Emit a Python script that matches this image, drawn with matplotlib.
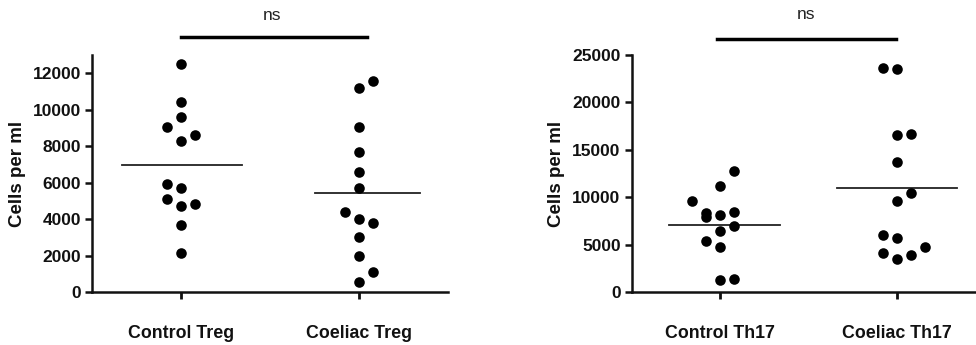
import matplotlib
matplotlib.use("Agg")
import matplotlib.pyplot as plt

plt.rcParams['font.family'] = ['Liberation Sans', 'DejaVu Sans']
plt.rcParams['font.weight'] = 'bold'

# Treg counts (cells per ml)
treg_groups = ["Control Treg", "Coeliac Treg"]
control_treg = [12500, 10400, 9620, 9050, 8630, 8300, 5910, 5720, 5100, 4810, 4720, 3680, 2160]
coeliac_treg = [11600, 11210, 9070, 7660, 6600, 5690, 4370, 4020, 3790, 3030, 1990, 1110, 570]

# Th17 counts (cells per ml)
th17_groups = ["Control Th17", "Coeliac Th17"]
control_th17 = [12760, 11210, 9600, 8300, 7910, 8120, 8440, 6930, 6430, 5380, 4750, 1230, 1370]
coeliac_th17 = [23660, 23490, 16560, 16700, 13680, 10470, 9600, 5980, 5730, 4780, 4150, 3870, 3450]

treg_ticks = [0, 2000, 4000, 6000, 8000, 10000, 12000]
th17_ticks = [0, 5000, 10000, 15000, 20000, 25000]
sig_label = "ns"

# horizontal swarm slots for each point (multiples of the slot width)
slots_control_treg = [0, 0, 0, -1, 1, 0, -1, 0, -1, 1, 0, 0, 0]
slots_coeliac_treg = [1, 0, 0, 0, 0, 0, -1, 0, 1, 0, 0, 1, 0]
slots_control_th17 = [1, 0, -2, -1, -1, 0, 1, 1, 0, -1, 0, 0, 1]
slots_coeliac_th17 = [-1, 0, 0, 1, 0, 1, 0, -1, 0, 2, -1, 1, 0]

SLOT = 0.08
W, H = 976, 345
fig = plt.figure(figsize=(W / 100, H / 100), dpi=100)


def panel(rect, groups, series, slots, ticks, ylim, mean_ext, bar, ns_pos):
    ax = fig.add_axes(rect)
    for i, (vals, sl) in enumerate(zip(series, slots)):
        xs = [i + s * SLOT for s in sl]
        ax.scatter(xs, vals, s=58, color='black', zorder=3, linewidths=0)
        m = sum(vals) / len(vals)
        lo, hi = mean_ext[i]
        ax.plot([i - lo, i + hi], [m, m], color='#222222', lw=1.3, zorder=2)
    ax.set_xlim(-0.5, 1.5)
    ax.set_ylim(*ylim)
    ax.set_yticks(ticks)
    ax.set_xticks(range(len(groups)))
    ax.set_xticklabels(groups, fontsize=12.8, fontweight='bold')
    ax.tick_params(axis='x', length=5, width=2, pad=19, colors='#111111')
    ax.tick_params(axis='y', length=5, width=1.8, pad=3, labelsize=12.5,
                   colors='#111111')
    for lab in ax.get_yticklabels():
        lab.set_fontweight('bold')
    for sp in ['top', 'right']:
        ax.spines[sp].set_visible(False)
    for sp in ['left', 'bottom']:
        ax.spines[sp].set_linewidth(1.8)
        ax.spines[sp].set_color('#111111')
    ax.set_ylabel("Cells per ml", fontsize=13.5, fontweight='bold', labelpad=5,
                  color='#111111')
    (x0, x1, yb) = bar
    ax.plot([x0, x1], [yb, yb], color='black', lw=2.5, clip_on=False)
    ax.text(ns_pos[0], ns_pos[1], sig_label, ha='center', va='center',
            fontsize=12.5, fontweight='normal', color='#222222')
    return ax


panel([92 / W, 53 / H, 356 / W, 237 / H], treg_groups,
      [control_treg, coeliac_treg], [slots_control_treg, slots_coeliac_treg],
      treg_ticks, (0, 13000), [(0.33, 0.34), (0.25, 0.34)],
      (0.0, 1.045, 13975), (0.51, 15150))

panel([631.7 / W, 53 / H, 353.4 / W, 237 / H], th17_groups,
      [control_th17, coeliac_th17], [slots_control_th17, slots_coeliac_th17],
      th17_ticks, (0, 25000), [(0.29, 0.34), (0.34, 0.34)],
      (-0.017, 0.996, 26720), (0.485, 29250))

fig.savefig("out.png", dpi=100)
